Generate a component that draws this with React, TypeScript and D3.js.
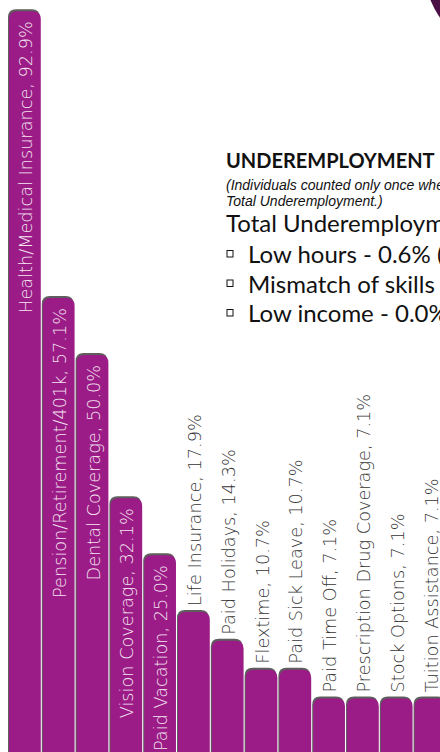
import React, { useEffect, useRef } from 'react';
import * as d3 from 'd3';

const categories = [
  'Health/Medical Insurance',
  'Pension/Retirement/401k',
  'Dental Coverage',
  'Vision Coverage',
  'Paid Vacation',
  'Life Insurance',
  'Paid Holidays',
  'Flextime',
  'Paid Sick Leave',
  'Paid Time Off',
  'Prescription Drug Coverage',
  'Stock Options',
  'Tuition Assistance',
];
const values = [92.9, 57.1, 50.0, 32.1, 25.0, 17.9, 14.3, 10.7, 10.7, 7.1, 7.1, 7.1, 7.1];

const boxTitle = 'UNDEREMPLOYMENT';
const boxNote = [
  '(Individuals counted only once when in more than one category of',
  'Total Underemployment.)',
];
const boxTotal = 'Total Underemployment - 0.6%';
const boxItems = ['Low hours - 0.6% (1)', 'Mismatch of skills - 0.0%', 'Low income - 0.0%'];

const W = 440;
const H = 752;

export default function App() {
  const svgRef = useRef<SVGSVGElement>(null);

  useEffect(() => {
    if (!svgRef.current) return;
    const svg = d3.select(svgRef.current);
    svg.selectAll('*').remove();

    const x = d3.scaleBand<string>()
      .domain(categories)
      .range([8, 447.4])
      .paddingInner(0.06)
      .paddingOuter(0.03);

    const y = d3.scaleLinear().domain([0, 100]).range([755.4, -45.6]);

    const rows = categories.map((c, i) => ({ name: c, value: values[i] }));
    const r = 8;
    const barPath = (d: { name: string; value: number }) => {
      const x0 = x(d.name)!;
      const w = x.bandwidth();
      const top = y(d.value);
      const bottom = H + 10;
      return `M${x0},${bottom}V${top + r}Q${x0},${top} ${x0 + r},${top}H${x0 + w - r}Q${x0 + w},${top} ${x0 + w},${top + r}V${bottom}Z`;
    };

    // dark corner shape
    svg.append('circle')
      .attr('cx', 505).attr('cy', -29).attr('r', 80)
      .attr('fill', '#4a1045');

    // shadow
    svg.selectAll('.shadow')
      .data(rows)
      .enter().append('path')
      .attr('class', 'shadow')
      .attr('d', barPath)
      .attr('transform', 'translate(-1,-2)')
      .attr('fill', '#5e5e5e');

    svg.selectAll('.bar')
      .data(rows)
      .enter().append('path')
      .attr('class', 'bar')
      .attr('d', barPath)
      .attr('fill', '#9c1c87');

    const font = "'DejaVu Sans ExtraLight', 'DejaVu Sans', sans-serif";
    svg.selectAll('.label')
      .data(rows)
      .enter().append('text')
      .attr('class', 'label')
      .attr('transform', d => {
        const cx = x(d.name)! + x.bandwidth() / 2 + 1;
        const inside = d.value >= 25;
        const ty = inside ? y(d.value) + 10 : y(d.value) - 6;
        return `translate(${cx},${ty}) rotate(-90)`;
      })
      .attr('text-anchor', d => (d.value >= 25 ? 'end' : 'start'))
      .attr('dominant-baseline', 'central')
      .attr('font-family', font)
      .attr('font-weight', 200)
      .attr('font-size', 17.7)
      .attr('fill', d => (d.value >= 25 ? '#f4e6f1' : '#333333'))
      .text(d => `${d.name}, ${d.value.toFixed(1)}%`);

    // text box
    const tb = svg.append('g').attr('font-family', "Lato, 'Noto Sans', sans-serif").attr('fill', '#111');
    tb.append('text').attr('x', 226).attr('y', 168).attr('font-weight', 700).attr('font-size', 20).text(boxTitle);
    boxNote.forEach((t, i) => {
      tb.append('text').attr('x', 226).attr('y', 190 + i * 15.5)
        .attr('font-family', "'Liberation Sans', Arial, sans-serif")
        .attr('font-style', 'italic').attr('font-size', 14).text(t);
    });
    tb.append('text').attr('x', 226).attr('y', 232).attr('font-size', 24).text(boxTotal);
    boxItems.forEach((t, i) => {
      const by = 263 + i * 29.5;
      tb.append('rect').attr('x', 227).attr('y', by - 12.5).attr('width', 6).attr('height', 6.5)
        .attr('fill', 'none').attr('stroke', '#111').attr('stroke-width', 1);
      tb.append('text').attr('x', 248).attr('y', by).attr('font-size', 24).text(t);
    });
  }, []);

  return (
    <>
      <style>{`body{margin:0;overflow:hidden}`}</style>
      <svg ref={svgRef} width={W} height={H} style={{ display: 'block', background: '#fff' }} />
    </>
  );
}
